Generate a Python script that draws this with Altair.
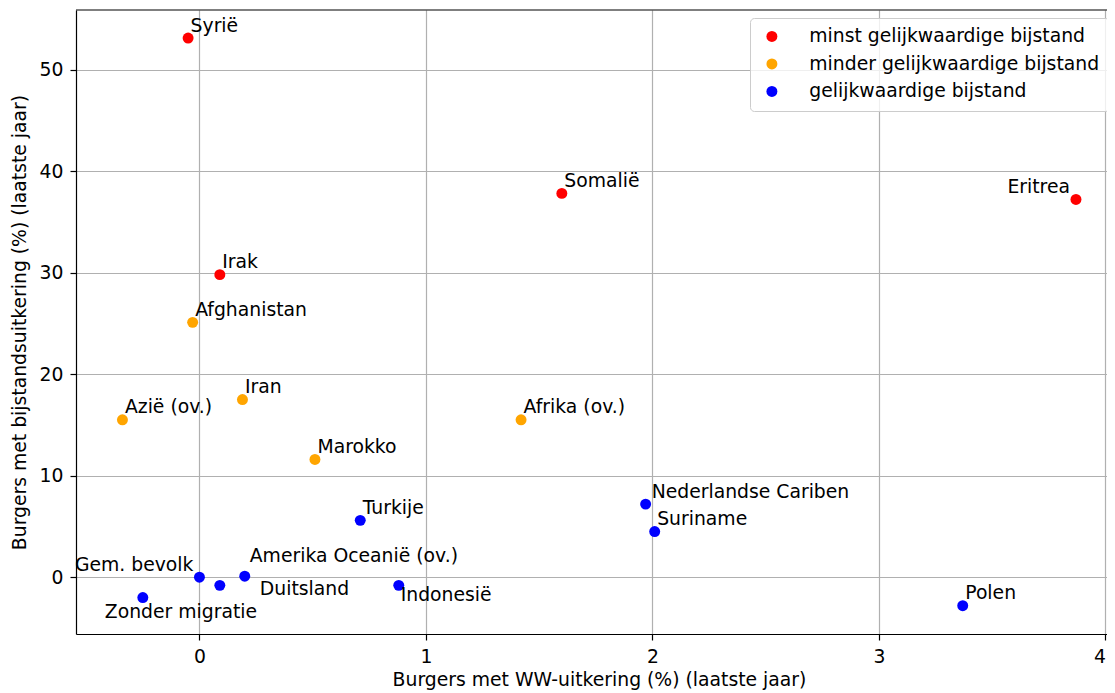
import altair as alt
import pandas as pd

# ---- data ----
names = ["Syrië", "Irak", "Somalië", "Eritrea",
         "Afghanistan", "Azië (ov.)", "Iran", "Marokko", "Afrika (ov.)",
         "Turkije", "Nederlandse Cariben", "Suriname", "Polen", "Gem. bevolk",
         "Duitsland", "Amerika Oceanië (ov.)", "Zonder migratie", "Indonesië"]
ww_pct = [-0.05, 0.09, 1.60, 3.87,
          -0.03, -0.34, 0.19, 0.51, 1.42,
          0.71, 1.97, 2.01, 3.37, 0.00,
          0.09, 0.20, -0.25, 0.88]
bijstand_pct = [53.1, 29.8, 37.8, 37.2,
                25.1, 15.5, 17.5, 11.6, 15.5,
                5.6, 7.2, 4.5, -2.8, 0.0,
                -0.8, 0.1, -2.0, -0.8]
group_names = ["minst gelijkwaardige bijstand",
               "minder gelijkwaardige bijstand",
               "gelijkwaardige bijstand"]
groups = [group_names[0]] * 4 + [group_names[1]] * 5 + [group_names[2]] * 9
x_ticks = [0, 1, 2, 3, 4]
y_ticks = [0, 10, 20, 30, 40, 50]

# ---- styling ----
colors = ["#ff0000", "#ffa500", "#0000ff"]
FONT = "DejaVu Sans"
FS = 18.8
default_place = ("left", 2.5, -6.5)
label_place = {
    "Eritrea": ("right", -6, -6),
    "Gem. bevolk": ("right", -6, -6),
    "Amerika Oceanië (ov.)": ("left", 5, -14),
    "Duitsland": ("left", 40, 10),
    "Zonder migratie": ("left", -38, 20),
    "Indonesië": ("left", 2, 16),
    "Nederlandse Cariben": ("left", 6, -6),
}

df = pd.DataFrame({"naam": names, "ww": ww_pct, "bijstand": bijstand_pct, "groep": groups})

x_enc = alt.X("ww:Q",
              scale=alt.Scale(domain=[-0.545, 4.007], nice=False, zero=False),
              axis=alt.Axis(values=x_ticks, format="d", labelPadding=7, titlePadding=5,
                            titleX=523,
                            labelAlign={"condition": {"test": "datum.value == 4", "value": "right"},
                                        "value": "center"},
                            title="Burgers met WW-uitkering (%) (laatste jaar)"))
y_enc = alt.Y("bijstand:Q",
              scale=alt.Scale(domain=[-5.59, 55.86], nice=False, zero=False),
              axis=alt.Axis(values=y_ticks, format="d", labelPadding=7, titlePadding=10,
                            title="Burgers met bijstandsuitkering (%) (laatste jaar)"))

base = alt.Chart(df)

points = base.mark_circle(size=120, opacity=1).encode(
    x=x_enc, y=y_enc,
    color=alt.Color("groep:N",
                    scale=alt.Scale(domain=group_names, range=colors),
                    sort=group_names,
                    legend=alt.Legend(title=None, orient="none", legendX=674, legendY=8,
                                      padding=9, symbolOffset=3.5, labelOffset=28,
                                      rowPadding=7.5, labelFontSize=FS, labelFont=FONT,
                                      labelColor="black", labelLimit=500,
                                      symbolType="circle", symbolSize=120,
                                      symbolStrokeWidth=0, symbolOpacity=1,
                                      fillColor="rgba(255,255,255,0.8)",
                                      strokeColor="#cccccc", cornerRadius=4)),
)

# group labels by placement
placements = {}
for n in names:
    p = label_place.get(n, default_place)
    placements.setdefault(p, []).append(n)

text_layers = []
for (align, dx, dy), members in placements.items():
    text_layers.append(
        base.transform_filter(alt.FieldOneOfPredicate(field="naam", oneOf=members))
        .mark_text(align=align, baseline="alphabetic", dx=dx, dy=dy,
                   font=FONT, fontSize=FS, color="black")
        .encode(x=x_enc, y=y_enc, text="naam:N")
    )

top_border = alt.Chart(pd.DataFrame({"k": [0]})).mark_rule(
    color="black", strokeWidth=1.2).encode(y=alt.value(0))

chart = alt.layer(points, *text_layers, top_border).properties(
    width=1031, height=624,
    autosize=alt.AutoSizeParams(type="none"),
    padding={"left": 68, "top": 2, "right": 0, "bottom": 66},
).configure_view(stroke=None).configure_axis(
    labelFont=FONT, labelFontSize=FS, labelColor="black",
    titleFont=FONT, titleFontSize=FS, titleFontWeight="normal", titleColor="black",
    tickColor="black", tickSize=6, tickWidth=1.2,
    domainColor="black", domainWidth=1.2,
    gridColor="#b0b0b0", gridWidth=1.2,
)

chart.save("out.html", embed_options={"renderer": "svg", "actions": False})
